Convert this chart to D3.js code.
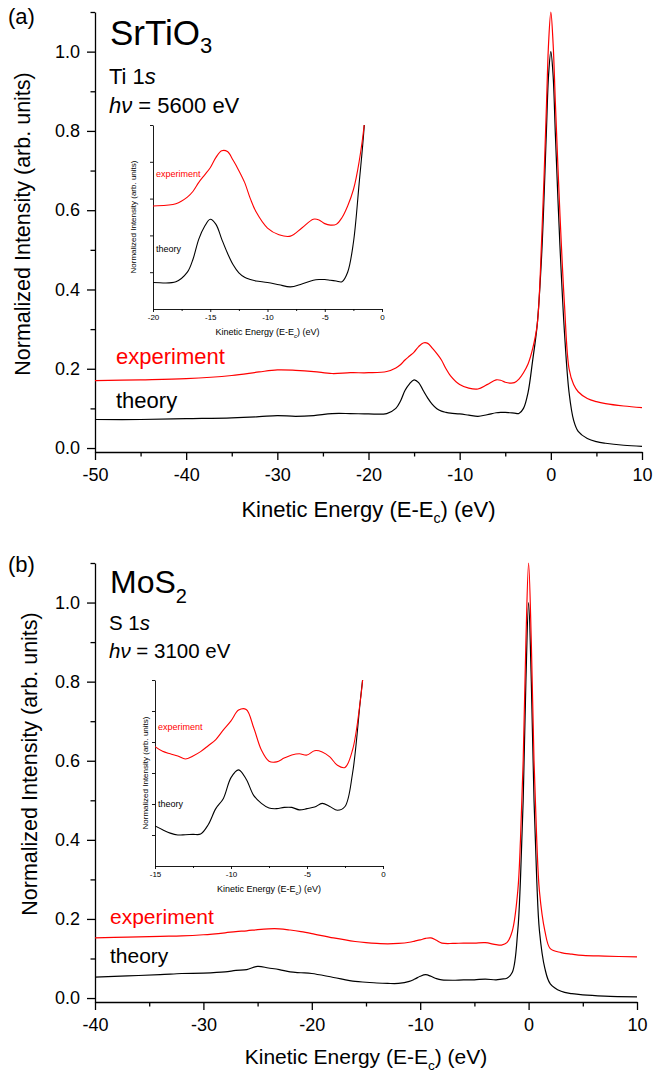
<!DOCTYPE html>
<html>
<head>
<meta charset="utf-8">
<script src="https://cdn.jsdelivr.net/npm/d3@7"></script>
<style>
  body { margin: 0; background: #fff; }
  svg { display: block; font-family: "Liberation Sans", Arial, sans-serif; }
</style>
</head>
<body>
<svg width="653" height="1073"></svg>
<script>
// ---- panel (a) SrTiO3, Ti 1s ----
var energyA = [-50, -45, -40, -35, -32, -30, -28, -26, -24, -22, -20, -18, -17, -16.5, -16, -15.5, -15, -14.5, -14, -13.5,
  -13, -12.5, -12, -11.5, -11, -10, -9, -8, -7, -6, -5.5, -5, -4.5, -4, -3.5, -3, -2.5, -2, -1.5, -1,
  -0.5, -0.25, 0, 0.25, 0.5, 1, 1.5, 2, 2.5, 3, 4, 5, 6, 8, 10];
var theoryA = [0.072, 0.072, 0.074, 0.076, 0.079, 0.082, 0.080, 0.082, 0.087, 0.087, 0.086, 0.087, 0.100, 0.118, 0.145, 0.162, 0.172, 0.165, 0.145, 0.126,
  0.110, 0.099, 0.093, 0.090, 0.088, 0.086, 0.083, 0.080, 0.084, 0.089, 0.090, 0.090, 0.089, 0.088, 0.087, 0.100, 0.140, 0.220, 0.310, 0.490,
  0.790, 0.940, 1.000, 0.940, 0.790, 0.510, 0.290, 0.140, 0.070, 0.042, 0.024, 0.016, 0.012, 0.007, 0.004];
var experimentA = [0.170, 0.172, 0.175, 0.183, 0.192, 0.197, 0.196, 0.193, 0.188, 0.190, 0.190, 0.193, 0.202, 0.210, 0.222, 0.232, 0.242, 0.256, 0.265, 0.264,
  0.252, 0.238, 0.222, 0.200, 0.182, 0.160, 0.151, 0.149, 0.160, 0.172, 0.171, 0.166, 0.164, 0.165, 0.174, 0.190, 0.212, 0.250, 0.310, 0.530,
  0.850, 1.020, 1.100, 1.020, 0.870, 0.590, 0.360, 0.200, 0.160, 0.142, 0.125, 0.117, 0.112, 0.106, 0.102];

// ---- panel (b) MoS2, S 1s ----
var energyB = [-40, -37, -34, -32, -30, -28, -27, -26, -25, -24, -23, -22, -21, -20, -18, -16, -15, -14, -13, -12,
  -11, -10.5, -10, -9.5, -9, -8.5, -8, -7, -6, -5, -4, -3, -2.5, -2, -1.5, -1, -0.75, -0.5, -0.25, 0,
  0.25, 0.5, 0.75, 1, 1.5, 2, 3, 4, 5, 7, 10];
var theoryB = [0.053, 0.056, 0.059, 0.062, 0.063, 0.066, 0.070, 0.072, 0.080, 0.076, 0.072, 0.066, 0.064, 0.062, 0.052, 0.042, 0.040, 0.038, 0.037, 0.037,
  0.042, 0.048, 0.055, 0.059, 0.055, 0.049, 0.046, 0.045, 0.046, 0.046, 0.048, 0.046, 0.048, 0.050, 0.065, 0.170, 0.300, 0.500, 0.800, 1.000,
  0.800, 0.500, 0.300, 0.170, 0.075, 0.036, 0.017, 0.011, 0.008, 0.005, 0.003];
var experimentB = [0.152, 0.154, 0.156, 0.157, 0.160, 0.165, 0.168, 0.170, 0.173, 0.175, 0.175, 0.172, 0.168, 0.163, 0.152, 0.143, 0.140, 0.138, 0.137, 0.138,
  0.141, 0.144, 0.147, 0.151, 0.152, 0.146, 0.139, 0.138, 0.139, 0.139, 0.140, 0.135, 0.134, 0.140, 0.170, 0.270, 0.400, 0.600, 0.900, 1.100,
  0.900, 0.600, 0.400, 0.270, 0.170, 0.125, 0.115, 0.111, 0.108, 0.106, 0.104];

// inset (b), arbitrary units
var insetEnergyB = [-15, -14.5, -14, -13.5, -13, -12.5, -12, -11.5, -11, -10.5, -10, -9.5, -9, -8.5, -8, -7.5, -7, -6.5, -6, -5.5,
  -5, -4.5, -4, -3.5, -3, -2.5, -2, -1.5, -1.3];
var insetTheoryB = [1.29, 1.17, 1.06, 1.00, 1.01, 1.02, 1.03, 1.33, 1.85, 2.18, 2.85, 3.10, 2.80, 2.27, 2.02, 1.87, 1.85, 1.89, 1.89, 1.81,
  1.85, 1.90, 2.02, 1.92, 1.80, 1.92, 3.00, 5.30, 6.20];
var insetExperimentB = [3.85, 3.70, 3.62, 3.55, 3.45, 3.55, 3.69, 3.88, 4.08, 4.39, 4.68, 5.03, 5.05, 4.45, 3.74, 3.38, 3.36, 3.48, 3.58, 3.62,
  3.58, 3.72, 3.68, 3.52, 3.25, 3.18, 3.75, 5.30, 6.20];

// tick values
var yMajor = [0, 0.2, 0.4, 0.6, 0.8, 1.0];
var yMinor = [0.1, 0.3, 0.5, 0.7, 0.9, 1.1];
var xMajorA = [-50, -40, -30, -20, -10, 0, 10];
var xMinorA = [-45, -35, -25, -15, -5, 5];
var xMajorB = [-40, -30, -20, -10, 0, 10];
var xMinorB = [-35, -25, -15, -5, 5];

var svg = d3.select("svg");
var RED = "#ff0000";

function drawAxes(g, x, y, o) {
  var fmt = function (d) { return String(d); };
  // minor ticks first
  g.append("g").attr("transform", "translate(0," + o.y0 + ")")
    .call(d3.axisBottom(x).tickValues(o.xMinor).tickSize(o.minor).tickFormat("").tickSizeOuter(0))
    .call(function (s) { s.select(".domain").remove(); });
  g.append("g").attr("transform", "translate(" + o.x0 + ",0)")
    .call(d3.axisLeft(y).tickValues(o.yMinor).tickSize(o.minor).tickFormat("").tickSizeOuter(0))
    .call(function (s) { s.select(".domain").remove(); });
  var gx = g.append("g").attr("transform", "translate(0," + o.y0 + ")")
    .call(d3.axisBottom(x).tickValues(o.xMajor).tickSize(o.major).tickPadding(o.padX).tickFormat(fmt).tickSizeOuter(0));
  var gy = g.append("g").attr("transform", "translate(" + o.x0 + ",0)")
    .call(d3.axisLeft(y).tickValues(o.yMajor).tickSize(o.major).tickPadding(o.padY)
      .tickFormat(o.yFormat ? d3.format(o.yFormat) : "").tickSizeOuter(0));
  [gx, gy].forEach(function (a) {
    a.attr("font-family", null).attr("font-size", o.font);
    a.selectAll("path, line").attr("stroke", "#000").attr("stroke-width", o.sw);
    a.selectAll("text").attr("fill", "#000");
  });
  g.selectAll("line").attr("stroke", "#000").attr("stroke-width", o.sw);
}

function drawLines(g, x, y, xs, ys, color, w) {
  var line = d3.line().x(function (d) { return x(d[0]); }).y(function (d) { return y(d[1]); })
    .curve(d3.curveCatmullRom.alpha(0.5));
  g.append("path").datum(d3.zip(xs, ys)).attr("d", line)
    .attr("fill", "none").attr("stroke", color).attr("stroke-width", w);
}

function axisTitle(g, cx, cy, size, subSize, rotate) {
  var t = g.append("text").attr("text-anchor", "middle").attr("font-size", size)
    .attr("transform", "translate(" + cx + "," + cy + ")" + (rotate ? " rotate(-90)" : ""));
  if (rotate) {
    t.text("Normalized Intensity (arb. units)");
  } else {
    t.append("tspan").text("Kinetic Energy (E-E");
    t.append("tspan").attr("font-size", subSize).attr("dy", size * 0.28).text("c");
    t.append("tspan").attr("dy", -size * 0.28).text(") (eV)");
  }
}

function header(g, o) {
  g.append("text").attr("x", 8).attr("y", o.tagY).attr("font-size", 22).text(o.tag);
  var t = g.append("text").attr("x", 110).attr("y", o.nameY).attr("font-size", o.nameSize);
  t.append("tspan").text(o.name);
  t.append("tspan").attr("font-size", o.subSize).attr("dy", o.subDy).text(o.sub);
  var c = g.append("text").attr("x", 109).attr("y", o.coreY).attr("font-size", o.lineSize);
  c.append("tspan").text(o.core);
  c.append("tspan").attr("font-style", "italic").text("s");
  var h = g.append("text").attr("x", 109).attr("y", o.hvY).attr("font-size", o.lineSize);
  h.append("tspan").attr("font-style", "italic").text("h\u03bd");
  h.append("tspan").text(" = " + o.photon + " eV");
}

function panel(o) {
  var g = svg.append("g");
  var x = d3.scaleLinear().domain(o.xDomain).range(o.xRange);
  var y = d3.scaleLinear().domain([-0.01, 1.1]).range(o.yRange);

  header(g, o);

  drawAxes(g, x, y, {
    y0: o.yRange[0], x0: o.xRange[0], xMajor: o.xMajor, xMinor: o.xMinor,
    yMajor: yMajor, yMinor: yMinor, major: 8, minor: 4.5, padX: 8, padY: 7,
    font: 18, sw: 1.3, yFormat: ".1f"
  });
  axisTitle(g, (o.xRange[0] + o.xRange[1]) / 2, o.xTitleY, o.titleSize, o.titleSize * 0.65, false);
  axisTitle(g, o.yTitleX, o.yTitleY, 21.5, 14, true);

  drawLines(g, x, y, o.energy, o.theory, "#000", 1.2);
  drawLines(g, x, y, o.energy, o.experiment, RED, 1.2);

  g.append("text").attr("x", o.lblX).attr("y", o.expY).attr("font-size", o.lblSize).attr("fill", RED).text("experiment");
  g.append("text").attr("x", o.lblX).attr("y", o.theoY).attr("font-size", o.lblSize).text("theory");

  // inset
  var ins = o.inset;
  var ig = g.append("g");
  var ix = d3.scaleLinear().domain(ins.xDomain).range(ins.xRange);
  var iy = d3.scaleLinear().domain(ins.yDomain).range(ins.yRange);
  var clipId = "clip" + o.tag.replace(/\W/g, "");
  ig.append("clipPath").attr("id", clipId).append("rect")
    .attr("x", ins.xRange[0]).attr("y", ins.yRange[1])
    .attr("width", ins.xRange[1] - ins.xRange[0]).attr("height", ins.yRange[0] - ins.yRange[1]);
  drawAxes(ig, ix, iy, {
    y0: ins.yRange[0], x0: ins.xRange[0], xMajor: ins.xMajor, xMinor: ins.xMinor,
    yMajor: ins.yTicks, yMinor: [], major: 3, minor: 2, padX: 2.5, padY: 2,
    font: 8, sw: 0.9, yFormat: null
  });
  var cg = ig.append("g").attr("clip-path", "url(#" + clipId + ")");
  drawLines(cg, ix, iy, ins.energy, ins.theory, "#000", 1.1);
  drawLines(cg, ix, iy, ins.energy, ins.experiment, RED, 1.1);
  ig.append("text").attr("x", ins.xRange[0] + 3).attr("y", ins.expY).attr("font-size", 9).attr("fill", RED).text("experiment");
  ig.append("text").attr("x", ins.xRange[0] + 3).attr("y", ins.theoY).attr("font-size", 9).text("theory");
  axisTitle(ig, (ins.xRange[0] + ins.xRange[1]) / 2, ins.xTitleY, 9, 6, false);
  axisTitle(ig, ins.yTitleX, (ins.yRange[0] + ins.yRange[1]) / 2, 8, 6, true);
}

panel({
  tag: "(a)", tagY: 24, name: "SrTiO", sub: "3", nameY: 45, nameSize: 35, subSize: 22, subDy: 8,
  core: "Ti 1", coreY: 84, hvY: 113, lineSize: 22, photon: "5600",
  xDomain: [-50, 10], xRange: [95, 642], yRange: [452, 12],
  xMajor: xMajorA, xMinor: xMinorA,
  xTitleY: 517, titleSize: 22, yTitleX: 30, yTitleY: 224,
  energy: energyA, theory: theoryA, experiment: experimentA,
  lblX: 116, expY: 364, theoY: 408, lblSize: 22,
  inset: {
    xDomain: [-20, 0], xRange: [153, 382], yDomain: [0.05, 0.30], yRange: [309, 125],
    xMajor: [-20, -15, -10, -5, 0], xMinor: [-17.5, -12.5, -7.5, -2.5], yTicks: [0.1, 0.15, 0.2, 0.25, 0.3],
    energy: energyA, theory: theoryA, experiment: experimentA,
    expY: 177, theoY: 252, xTitleY: 335, yTitleX: 136
  }
});

panel({
  tag: "(b)", tagY: 572, name: "MoS", sub: "2", nameY: 593, nameSize: 32, subSize: 20, subDy: 10,
  core: "S 1", coreY: 630, hvY: 658, lineSize: 20.5, photon: "3100",
  xDomain: [-40, 10], xRange: [95, 637], yRange: [1002, 563],
  xMajor: xMajorB, xMinor: xMinorB,
  xTitleY: 1064, titleSize: 21, yTitleX: 36.5, yTitleY: 764,
  energy: energyB, theory: theoryB, experiment: experimentB,
  lblX: 110, expY: 924, theoY: 963, lblSize: 21,
  inset: {
    xDomain: [-15, 0], xRange: [155, 383], yDomain: [0, 6], yRange: [866, 680],
    xMajor: [-15, -10, -5, 0], xMinor: [-12.5, -7.5, -2.5], yTicks: [1, 2, 3, 4, 5, 6],
    energy: insetEnergyB, theory: insetTheoryB, experiment: insetExperimentB,
    expY: 730, theoY: 807, xTitleY: 892, yTitleX: 148
  }
});
</script>
</body>
</html>
